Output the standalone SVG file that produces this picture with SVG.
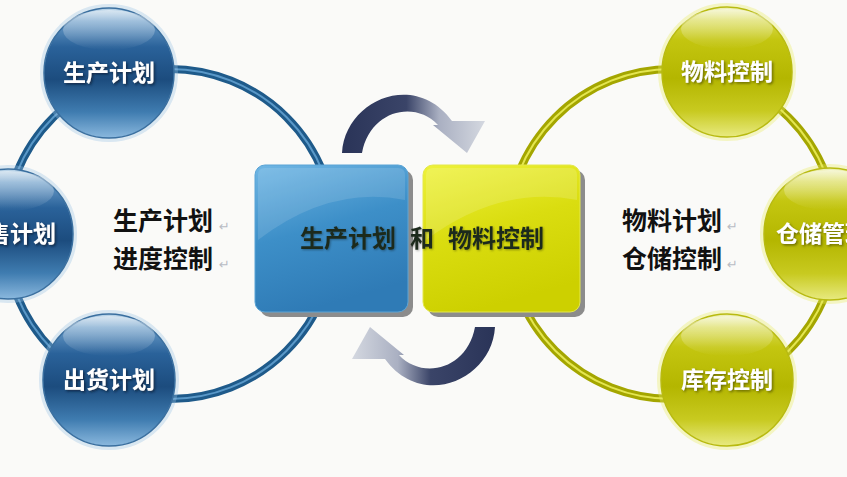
<svg xmlns="http://www.w3.org/2000/svg" width="847" height="477" viewBox="0 0 847 477">
<defs>
<style>
.bt{font-family:"Noto Sans CJK SC","Noto Sans",sans-serif;font-weight:bold;font-size:23px;fill:#ffffff;}
.lb{font-family:"Noto Sans CJK SC","Noto Sans",sans-serif;font-weight:bold;font-size:25px;fill:#111111;}
.ct{font-family:"Noto Sans CJK SC","Noto Sans",sans-serif;font-weight:bold;font-size:24px;fill:#1c2a1c;}
.pm{font-family:"DejaVu Sans",sans-serif;font-size:13px;fill:#b8bcc4;}
.glowB{fill:none;stroke:#9cc4e4;stroke-width:4;stroke-opacity:0.35;}
.glowY{fill:none;stroke:#e8ea60;stroke-width:4;stroke-opacity:0.35;}
</style>
<linearGradient id="gBlueBall" x1="0" y1="0" x2="0" y2="1">
<stop offset="0" stop-color="#c0d8ea"/>
<stop offset="0.1" stop-color="#6a9cc8"/>
<stop offset="0.3" stop-color="#2a629a"/>
<stop offset="0.55" stop-color="#1c4c7e"/>
<stop offset="0.8" stop-color="#3f7cb0"/>
<stop offset="1" stop-color="#8ab8de"/>
</linearGradient>
<linearGradient id="gYelBall" x1="0" y1="0" x2="0" y2="1">
<stop offset="0" stop-color="#f0f2c0"/>
<stop offset="0.1" stop-color="#d8da50"/>
<stop offset="0.25" stop-color="#c4c610"/>
<stop offset="0.55" stop-color="#b4b600"/>
<stop offset="0.8" stop-color="#c8ca20"/>
<stop offset="1" stop-color="#e8ea80"/>
</linearGradient>
<linearGradient id="gHi" x1="0" y1="0" x2="0" y2="1">
<stop offset="0" stop-color="#ffffff" stop-opacity="0.5"/>
<stop offset="1" stop-color="#ffffff" stop-opacity="0"/>
</linearGradient>
<linearGradient id="gBlueBox" x1="0" y1="0" x2="0.3" y2="1">
<stop offset="0" stop-color="#6fb6e4"/>
<stop offset="0.5" stop-color="#3d8fc8"/>
<stop offset="1" stop-color="#2f7bb6"/>
</linearGradient>
<linearGradient id="gYelBox" x1="0" y1="0" x2="0.3" y2="1">
<stop offset="0" stop-color="#eef23a"/>
<stop offset="0.5" stop-color="#dadd10"/>
<stop offset="1" stop-color="#cdd000"/>
</linearGradient>
<linearGradient id="gArrow" gradientUnits="userSpaceOnUse" x1="342" y1="0" x2="485" y2="0">
<stop offset="0" stop-color="#2a3458"/>
<stop offset="0.45" stop-color="#3a4468"/>
<stop offset="0.68" stop-color="#aab0c2"/>
<stop offset="1" stop-color="#d4d8e0"/>
</linearGradient>
<filter id="ts" x="-10%" y="-30%" width="120%" height="160%">
<feDropShadow dx="1.5" dy="1.5" stdDeviation="0.8" flood-color="#0b2238" flood-opacity="0.8"/>
</filter>
<filter id="tsy" x="-10%" y="-30%" width="120%" height="160%">
<feDropShadow dx="1.5" dy="1.5" stdDeviation="0.8" flood-color="#5a5a00" flood-opacity="0.8"/>
</filter>
<filter id="ts2" x="-10%" y="-30%" width="120%" height="160%">
<feDropShadow dx="1" dy="1" stdDeviation="0.8" flood-color="#000000" flood-opacity="0.35"/>
</filter>
<path id="arrowShape" d="M 342 153 C 345 100, 415 70, 452 121 L 485 121 L 467 153 L 433 125 L 438 125 C 415 100, 370 110, 362 153 Z"/>
</defs>
<rect x="0" y="0" width="847" height="477" fill="#fafaf8"/>

<g id="connectors">
<circle cx="170" cy="234" r="165" fill="none" stroke="#1e5a8a" stroke-width="8"/>
<circle cx="170" cy="234" r="165" fill="none" stroke="#5a98c8" stroke-width="2"/>
<circle cx="672" cy="234" r="165" fill="none" stroke="#a4a600" stroke-width="8"/>
<circle cx="672" cy="234" r="165" fill="none" stroke="#e4e650" stroke-width="2"/>
<use href="#arrowShape" fill="url(#gArrow)"/>
<use href="#arrowShape" fill="url(#gArrow)" transform="rotate(180 418.5 240)"/>
</g>

<g id="box-production">
<rect x="260" y="170" width="153" height="147" rx="10" fill="#8c8c8c"/>
<rect x="255" y="165" width="153" height="147" rx="10" fill="url(#gBlueBox)" stroke="#5aa4d6" stroke-width="1"/>
<path d="M 265 168 L 398 168 Q 405 168 405 175 L 405 200 Q 330 185 258 240 L 258 175 Q 258 168 265 168 Z" fill="#ffffff" opacity="0.12"/>
</g>
<g id="box-material">
<rect x="428" y="170" width="157" height="147" rx="10" fill="#8c8c8c"/>
<rect x="423" y="165" width="157" height="147" rx="10" fill="url(#gYelBox)" stroke="#e4e84c" stroke-width="1"/>
<path d="M 433 168 L 570 168 Q 577 168 577 175 L 577 200 Q 500 185 426 240 L 426 175 Q 426 168 433 168 Z" fill="#ffffff" opacity="0.15"/>
</g>
<g id="center-title">
<text class="ct" x="300" y="247" filter="url(#ts2)">生产计划</text>
<text class="ct" x="410" y="247" filter="url(#ts2)">和</text>
<text class="ct" x="448" y="247" filter="url(#ts2)">物料控制</text>
</g>

<g id="ball-production-plan">
<circle class="glowB" cx="109" cy="73" r="67"/>
<circle cx="109" cy="73" r="65" fill="url(#gBlueBall)" stroke="#3a6f9f" stroke-width="1.5"/>
<ellipse cx="109" cy="30" rx="46" ry="20" fill="url(#gHi)"/>
<text class="bt" x="109" y="81" text-anchor="middle" filter="url(#ts)">生产计划</text>
</g>
<g id="ball-sales-plan">
<circle class="glowB" cx="8" cy="234" r="67"/>
<circle cx="8" cy="234" r="65" fill="url(#gBlueBall)" stroke="#3a6f9f" stroke-width="1.5"/>
<ellipse cx="8" cy="191" rx="46" ry="20" fill="url(#gHi)"/>
<text class="bt" x="10" y="242" text-anchor="middle" filter="url(#ts)">销售计划</text>
</g>
<g id="ball-shipping-plan">
<circle class="glowB" cx="109" cy="380" r="68"/>
<circle cx="109" cy="380" r="66" fill="url(#gBlueBall)" stroke="#3a6f9f" stroke-width="1.5"/>
<ellipse cx="109" cy="336" rx="46" ry="20" fill="url(#gHi)"/>
<text class="bt" x="109" y="388" text-anchor="middle" filter="url(#ts)">出货计划</text>
</g>

<g id="ball-material-control">
<circle class="glowY" cx="727" cy="72" r="67"/>
<circle cx="727" cy="72" r="65" fill="url(#gYelBall)" stroke="#b8ba10" stroke-width="1.5"/>
<ellipse cx="727" cy="29" rx="46" ry="20" fill="url(#gHi)"/>
<text class="bt" x="727" y="80" text-anchor="middle" filter="url(#tsy)">物料控制</text>
</g>
<g id="ball-warehouse">
<circle class="glowY" cx="830" cy="234" r="68"/>
<circle cx="830" cy="234" r="66" fill="url(#gYelBall)" stroke="#b8ba10" stroke-width="1.5"/>
<ellipse cx="830" cy="190" rx="46" ry="20" fill="url(#gHi)"/>
<text class="bt" x="776" y="242" filter="url(#tsy)">仓储管理</text>
</g>
<g id="ball-inventory">
<circle class="glowY" cx="727" cy="380" r="68"/>
<circle cx="727" cy="380" r="66" fill="url(#gYelBall)" stroke="#b8ba10" stroke-width="1.5"/>
<ellipse cx="727" cy="336" rx="46" ry="20" fill="url(#gHi)"/>
<text class="bt" x="727" y="388" text-anchor="middle" filter="url(#tsy)">库存控制</text>
</g>

<g id="label-left">
<text class="lb" x="113" y="230">生产计划</text>
<text class="pm" x="219" y="231">↵</text>
<text class="lb" x="113" y="268">进度控制</text>
<text class="pm" x="219" y="269">↵</text>
</g>
<g id="label-right">
<text class="lb" x="622" y="230">物料计划</text>
<text class="pm" x="727" y="231">↵</text>
<text class="lb" x="622" y="268">仓储控制</text>
<text class="pm" x="727" y="269">↵</text>
</g>
</svg>
